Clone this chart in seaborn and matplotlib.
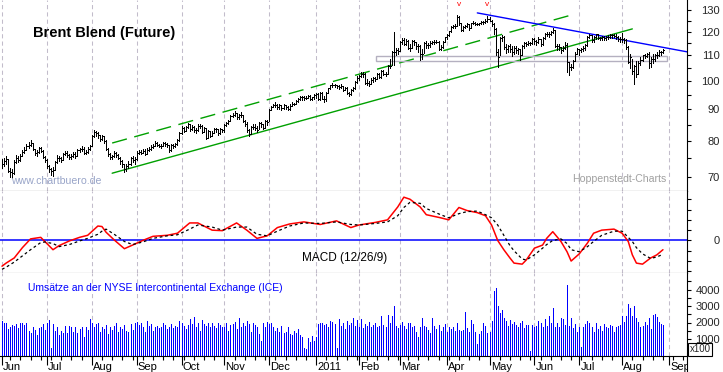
import matplotlib
matplotlib.use("Agg")
import matplotlib.pyplot as plt
import matplotlib.ticker as mticker
from matplotlib.patches import Rectangle
from matplotlib.transforms import blended_transform_factory, Bbox, TransformedBbox
import numpy as np
import pandas as pd
import seaborn as sns

sns.set_style("white")
plt.rcParams['font.family'] = ['Liberation Sans', 'DejaVu Sans']

# ---------------- data (daily, Jun 2010 .. Aug 2011) ----------------
close = [
    73.5, 74.2, 74.8, 71.6, 71.3, 71.0, 74.0, 75.2, 74.6, 75.8, 76.9, 77.5, 78.4, 78.9, 79.3, 77.6, 76.4, 76.8, 77.9, 77.2, 75.3, 74.6,
    72.9, 72.0, 71.7, 71.9, 74.0, 75.2, 75.0, 74.6, 76.1, 76.6, 75.9, 75.4, 75.8, 76.3, 75.8, 77.4, 77.7, 77.8, 76.6, 76.9, 77.7, 78.5,
    81.6, 82.6, 82.4, 81.7, 80.6, 81.4, 80.1, 77.8, 76.2, 75.4, 75.7, 76.5, 76.0, 75.1, 74.3, 73.4, 72.1, 72.9, 73.6, 75.0, 74.6, 74.8,
    76.6, 76.9, 76.6, 77.2, 76.3, 77.5, 77.7, 78.3, 78.5, 79.4, 78.9, 78.6, 78.5, 79.3, 79.0, 78.7, 77.3, 78.9, 78.4, 79.0, 80.3, 82.3,
    83.9, 83.1, 84.3, 85.1, 83.5, 84.4, 83.2, 83.3, 84.6, 84.7, 82.8, 83.9, 81.0, 83.0, 81.6, 82.5, 83.5, 83.6, 82.3, 83.5, 83.2,
    84.9, 85.4, 86.0, 87.9, 88.0, 88.6, 87.3, 88.0, 88.2, 86.3, 85.3, 83.4, 82.0, 84.3, 84.4, 84.0, 83.3, 85.4, 85.1, 84.0, 86.0, 85.9,
    89.9, 90.7, 91.4, 91.5, 90.7, 91.3, 90.5, 91.4, 90.8, 90.0, 91.2, 91.8, 91.9, 92.7, 93.5, 94.2, 94.0, 93.8, 93.9, 94.6, 93.6, 94.0, 94.8,
    95.2, 93.5, 95.5, 93.6, 93.3, 95.7, 97.2, 98.3, 98.6, 98.4, 98.0, 97.8, 98.2, 96.8, 97.4, 95.6, 95.2, 96.6, 97.4, 99.4, 101.0,
    101.7, 102.4, 102.6, 99.3, 99.3, 98.9, 100.2, 101.0, 100.8, 102.4, 101.6, 103.8, 102.6, 102.5, 105.7, 105.8, 111.3, 111.4, 112.1, 111.8,
    115.4, 116.4, 114.8, 116.0, 113.1, 113.0, 115.9, 115.4, 113.8, 113.7, 110.6, 110.6, 114.9, 114.0, 114.3, 115.0, 115.5, 115.5, 115.6, 112.4, 113.3, 115.4, 117.4,
    118.7, 120.1, 122.2, 122.3, 122.7, 126.6, 123.9, 120.9, 121.9, 122.5, 123.5, 121.6, 123.9, 124.0, 123.6, 123.4, 123.7, 124.2, 124.3, 124.8, 125.9,
    125.0, 123.5, 121.2, 111.1, 109.1, 117.3, 117.7, 113.4, 112.6, 113.8, 112.5, 111.4, 112.9, 112.1, 112.4, 110.1, 113.6, 114.9, 114.5, 115.0, 115.0, 116.7,
    115.7, 115.6, 116.8, 114.6, 117.1, 118.8, 119.0, 118.8, 119.6, 120.6, 113.9, 113.9, 113.2, 111.9, 113.0, 114.2, 107.3, 105.1, 105.3, 107.7, 110.6, 112.5,
    111.9, 112.3, 112.8, 114.0, 117.8, 118.3, 116.2, 117.4, 118.8, 117.0, 117.2, 117.4, 117.3, 117.6, 117.5, 118.7, 118.3, 118.2, 117.4, 116.7, 116.7,
    116.9, 116.5, 113.2, 107.3, 109.4, 103.7, 105.7, 102.6, 107.0, 108.0, 109.9, 109.7, 110.6, 106.9, 108.6, 108.4, 110.0, 110.2, 111.4, 111.4, 112.0,
]
high = [
    74.8, 75.0, 75.6, 74.9, 72.4, 72.0, 74.5, 76.0, 75.7, 76.2, 77.4, 78.2, 79.0, 79.7, 80.4, 79.4, 77.8, 77.5, 78.3, 78.2, 77.3, 75.7,
    74.8, 73.3, 72.4, 72.7, 74.4, 75.9, 75.6, 75.5, 76.4, 77.0, 77.0, 76.2, 76.2, 76.8, 76.8, 77.7, 78.0, 78.6, 78.1, 77.5, 78.1, 78.9,
    81.9, 83.3, 83.0, 82.7, 81.8, 81.7, 81.4, 80.3, 77.9, 76.5, 76.0, 77.0, 76.9, 76.2, 75.5, 74.6, 73.6, 73.4, 74.3, 75.4, 75.7, 75.3,
    77.0, 77.4, 77.3, 77.8, 77.6, 77.9, 78.2, 78.7, 79.1, 79.9, 79.6, 79.2, 79.0, 79.8, 79.6, 79.5, 78.8, 79.2, 79.1, 79.4, 80.6, 82.6,
    84.5, 84.2, 84.6, 85.6, 85.3, 84.9, 84.5, 84.0, 85.2, 85.3, 84.8, 84.2, 84.0, 83.4, 83.0, 82.9, 83.9, 84.0, 83.7, 83.8, 83.7,
    85.2, 85.8, 86.4, 88.2, 88.7, 89.4, 88.6, 88.4, 89.1, 88.0, 86.6, 85.7, 83.7, 84.7, 85.2, 85.1, 84.6, 85.7, 85.8, 85.2, 86.5, 86.5,
    90.2, 91.2, 91.8, 92.4, 91.6, 91.7, 91.2, 91.7, 91.5, 91.0, 91.6, 92.3, 92.2, 93.2, 93.8, 94.6, 94.5, 94.4, 94.6, 94.9, 94.7, 94.3, 95.1,
    95.6, 95.4, 95.8, 95.8, 94.4, 95.9, 97.5, 98.6, 99.2, 98.9, 98.5, 98.4, 98.7, 98.2, 97.9, 97.6, 96.1, 97.1, 97.9, 99.8, 101.7,
    102.0, 103.4, 103.4, 103.0, 100.6, 100.0, 100.9, 101.6, 101.6, 102.8, 103.0, 104.0, 104.1, 103.5, 105.9, 108.6, 111.7, 119.8, 112.9, 113.0,
    116.1, 117.0, 117.0, 116.7, 116.5, 114.4, 116.2, 116.5, 115.6, 114.5, 114.3, 112.3, 115.5, 115.7, 115.0, 115.7, 116.0, 116.2, 116.4, 115.9, 114.0, 115.8, 117.6,
    119.0, 120.4, 122.6, 123.0, 123.5, 127.5, 126.9, 123.9, 122.3, 123.0, 124.0, 123.6, 124.1, 124.7, 124.4, 123.9, 124.0, 124.6, 124.9, 125.5, 127.2,
    126.8, 125.4, 123.9, 121.8, 112.7, 117.6, 118.6, 118.2, 114.6, 114.2, 114.4, 113.6, 113.6, 113.7, 113.0, 112.4, 114.0, 115.3, 115.3, 115.8, 115.6, 117.3,
    117.0, 116.3, 117.5, 116.9, 117.4, 119.3, 119.8, 119.9, 120.4, 121.6, 120.9, 114.4, 114.4, 113.4, 113.6, 115.3, 114.9, 107.2, 106.4, 108.0, 111.2, 112.9,
    112.4, 113.0, 113.6, 114.8, 118.1, 118.9, 118.5, 117.9, 119.0, 119.0, 117.7, 118.0, 117.9, 118.2, 118.3, 119.0, 119.1, 118.8, 118.9, 118.0, 117.8,
    119.5, 117.0, 116.6, 113.6, 110.4, 108.5, 106.1, 107.8, 107.5, 109.2, 110.2, 110.5, 111.0, 111.1, 109.4, 110.5, 110.4, 111.3, 112.0, 111.8, 112.4,
]
low = [
    72.3, 72.8, 73.6, 71.2, 70.1, 69.7, 70.8, 73.8, 74.0, 74.4, 75.6, 76.6, 77.3, 78.0, 78.6, 77.3, 76.0, 75.8, 76.6, 76.9, 75.0, 73.9,
    72.3, 71.3, 70.6, 70.2, 71.8, 73.8, 74.4, 74.0, 74.6, 75.9, 75.3, 74.7, 74.7, 75.3, 75.2, 75.7, 76.8, 77.1, 76.2, 76.2, 76.6, 77.3,
    78.6, 81.2, 81.6, 80.9, 80.1, 80.3, 79.4, 77.4, 75.8, 74.9, 74.7, 75.4, 75.4, 74.9, 73.6, 72.6, 71.2, 71.6, 72.5, 73.2, 74.0, 73.6,
    74.5, 76.2, 76.1, 76.5, 75.9, 76.1, 77.0, 77.5, 77.9, 78.4, 78.6, 78.1, 77.9, 78.4, 78.6, 78.2, 76.9, 77.1, 78.0, 78.2, 78.8, 80.1,
    82.0, 82.7, 82.9, 84.0, 83.0, 83.2, 82.6, 82.4, 83.0, 83.8, 82.5, 82.6, 80.6, 80.8, 81.2, 81.5, 82.4, 82.8, 81.9, 82.2, 82.7,
    82.8, 84.5, 85.1, 86.1, 87.3, 87.9, 86.9, 86.8, 87.5, 85.9, 84.6, 82.8, 81.4, 82.2, 83.6, 83.4, 82.6, 83.5, 84.4, 83.6, 84.0, 85.0,
    86.0, 89.7, 90.6, 90.9, 90.1, 90.1, 89.9, 90.2, 90.1, 89.6, 89.8, 91.1, 91.3, 91.6, 92.6, 93.2, 93.1, 93.1, 93.3, 93.7, 93.2, 93.1, 93.6,
    93.7, 93.0, 93.2, 93.3, 92.6, 92.9, 95.5, 97.0, 97.9, 97.6, 97.5, 97.1, 97.4, 96.3, 96.5, 95.3, 94.6, 95.0, 96.2, 96.9, 99.1,
    100.4, 101.3, 101.5, 98.9, 98.6, 98.2, 98.8, 99.5, 100.0, 100.8, 101.2, 101.2, 102.3, 101.8, 102.6, 104.8, 106.0, 106.0, 110.0, 110.5,
    111.6, 114.7, 114.3, 114.0, 112.5, 111.7, 112.8, 114.3, 112.4, 111.3, 108.0, 108.4, 110.7, 113.0, 113.0, 113.5, 114.5, 114.6, 115.0, 112.0, 112.0, 112.9, 115.4,
    116.8, 118.2, 119.8, 121.5, 121.8, 122.5, 123.0, 120.2, 120.2, 121.4, 122.0, 120.8, 121.6, 123.4, 122.9, 123.1, 122.8, 123.5, 123.4, 124.0, 124.5,
    124.6, 122.3, 118.9, 109.9, 105.2, 110.2, 116.1, 112.6, 111.0, 111.3, 111.2, 109.8, 110.5, 110.9, 110.6, 108.2, 110.1, 113.0, 113.6, 114.0, 114.2, 114.6,
    114.5, 114.2, 115.0, 113.7, 114.1, 116.9, 117.9, 117.8, 118.4, 119.2, 113.5, 112.0, 112.2, 111.0, 111.5, 112.6, 103.5, 102.3, 104.0, 104.8, 107.6, 110.4,
    110.2, 111.2, 111.5, 112.1, 113.8, 117.0, 115.4, 115.5, 116.9, 116.6, 116.3, 116.3, 116.5, 116.5, 116.6, 117.1, 117.3, 117.6, 116.8, 116.0, 115.6,
    115.5, 115.0, 112.4, 106.8, 104.8, 102.5, 98.8, 101.5, 102.4, 106.1, 107.6, 108.8, 109.3, 105.0, 105.2, 106.8, 107.6, 108.7, 109.8, 110.0, 110.9,
]
volume = [
    2100, 1950, 1960, 1580, 1700, 1850, 1760, 1900, 1680, 1980, 1980, 1850, 2000, 1500, 1350, 1700, 1520, 1250, 1660, 1700, 1880, 1550,
    1960, 2150, 450, 1900, 1480, 1750, 1250, 1500, 1350, 1800, 1350, 1800, 1700, 1450, 1750, 1350, 1600, 1700, 1100, 1700, 1550, 2200,
    2000, 1700, 1900, 2000, 1400, 1750, 1600, 1850, 1300, 1700, 1550, 1800, 1950, 1450, 1700, 1600, 1850, 1500, 1400, 1900, 1550, 2000,
    2050, 1850, 1950, 1700, 1450, 2100, 1800, 1900, 1500, 1700, 1800, 1650, 1700, 2000, 1850, 1600, 1750, 1900, 1650, 1800, 1700, 2100,
    1950, 1800, 1600, 1850, 2200, 1900, 2350, 1750, 2000, 1500, 2150, 1900, 1800, 2000, 1750, 1950, 1800, 1650, 1950, 1850, 1700,
    1700, 1950, 1500, 1850, 1900, 2050, 1600, 2250, 1750, 2000, 1800, 2100, 1900, 1450, 1950, 1850, 1700, 1300, 900, 1950, 1700, 2050,
    1900, 2000, 1750, 1500, 1650, 1450, 1800, 1350, 1450, 1700, 1300, 1250, 1500, 1350, 1600, 1250, 1150, 450, 400, 1050, 800, 1200, 900,
    1100, 1900, 2000, 1950, 1850, 1900, 1750, 2100, 2050, 1900, 450, 2200, 1800, 2000, 1600, 2100, 1850, 2000, 2250, 1800, 2150,
    1750, 2200, 1650, 1900, 1800, 2050, 1750, 1850, 2000, 1700, 1800, 2400, 1850, 1700, 2450, 2000, 2400, 3000, 1800, 1650,
    1850, 2050, 1800, 1600, 2000, 1950, 1700, 1800, 1450, 1150, 1700, 2250, 1800, 1700, 1550, 1350, 2250, 1800, 1600, 1850, 1500, 1750, 1900,
    1450, 1700, 1600, 1750, 1500, 1950, 1550, 1500, 1550, 2650, 1650, 1400, 2150, 1900, 1450, 700, 1300, 1500, 1950, 1800, 1350,
    1400, 2100, 3900, 4100, 3000, 2600, 2750, 2300, 2100, 1800, 2150, 1900, 2050, 1850, 1700, 2000, 2100, 1650, 1850, 1850, 300, 1850,
    1750, 1800, 2100, 2000, 1750, 2200, 1800, 2400, 2000, 2900, 1750, 1950, 1700, 2300, 2200, 1850, 4300, 1800, 2250, 1650, 1900, 1400,
    1750, 500, 1750, 1900, 2100, 2000, 1750, 1450, 1950, 1600, 1800, 1500, 1900, 1750, 1650, 1850, 1800, 1400, 1750, 1800, 1850,
    2400, 2050, 2400, 3150, 2900, 2400, 3000, 2300, 2050, 1750, 1800, 2050, 1850, 2250, 1600, 2450, 2500, 2350, 2050, 1900, 1850,
]

# MACD (12/26/9): trading-day index, MACD line, signal line
macd_day = [0, 2, 6, 10, 14, 19, 21, 25, 28, 33, 38, 42, 47, 49, 51, 55, 60, 64, 69, 74, 81, 86, 92, 96, 103,
            108, 115, 120, 125, 130, 135, 141, 148, 156, 164, 171, 175, 183, 189, 194, 197, 200, 205, 208, 215,
            219, 224, 228, 233, 237, 240, 243, 246, 249, 251, 255, 257, 261, 265, 267, 270, 274, 277, 279, 283,
            287, 290, 294, 300, 304, 307, 309, 311, 314, 318, 321, 324]
macd_val = [-2.5, -2.2, -1.7, -0.7, 0.15, 0.3, -0.1, -0.9, -0.5, -0.05, 0.3, 0.5, 1.4, 1.35, 0.8, 0.05, -0.8, -0.45, 0.0, 0.4, 0.5, 0.7, 1.7, 1.7, 1.0,
            0.95, 1.7, 1.0, 0.2, 0.45, 1.25, 1.6, 1.8, 1.55, 1.9, 1.25, 1.5, 1.75, 2.0, 3.25, 4.2, 4.0, 3.25, 2.5, 2.2,
            2.0, 3.2, 2.9, 2.7, 2.4, 1.5, 0.0, -0.9, -1.7, -2.2, -2.3, -1.9, -0.75, -0.45, 0.2, 0.85, -0.1, -1.1, -2.0, -1.3,
            -0.25, 0.7, 1.0, 1.1, 0.7, -0.1, -1.4, -2.2, -2.3, -1.7, -1.4, -0.9]
signal_val = [-2.8, -2.6, -2.1, -1.5, -0.9, -0.2, -0.15, -0.3, -0.6, -0.4, -0.05, 0.2, 0.6, 0.9, 1.1, 0.6, -0.1, -0.4, -0.15, 0.2, 0.45, 0.55, 1.1, 1.5, 1.3,
              1.0, 1.3, 1.3, 0.6, 0.45, 0.9, 1.4, 1.7, 1.65, 1.8, 1.55, 1.5, 1.65, 1.8, 2.4, 3.2, 3.7, 3.6, 3.1, 2.5,
              2.2, 2.6, 2.8, 2.85, 2.5, 2.2, 1.5, 0.5, -0.5, -1.0, -1.8, -1.9, -1.4, -0.75, -0.4, 0.0, 0.15, -0.3, -0.9, -1.1,
              -0.6, -0.1, 0.5, 0.9, 0.9, 0.3, -0.1, -0.7, -1.3, -1.75, -1.6, -1.35]

# trend lines (trading-day index, price)
channel_low_day, channel_low_price = [54, 309], [71.0, 121.2]
channel_up_day, channel_up_price = [54, 281], [79.4, 128.1]
resist_day, resist_price = [233, 336], [128.6, 111.3]
zone_day, zone_price = [183.3, 326.0], [107.6, 109.6]
peak_marks = [224, 238]

month_labels = ["Jun", "Jul", "Aug", "Sep", "Oct", "Nov", "Dec", "2011",
                "Feb", "Mar", "Apr", "May", "Jun", "Jul", "Aug", "Sep"]
price_ticks = [70, 80, 90, 100, 110, 120, 130]
price_minor = [75, 85, 95, 105, 115, 125]
macd_ticks = [-3, -2, -1, 0, 1, 2, 3, 4]
vol_ticks = [1000, 2000, 3000, 4000]
vol_minor = [500, 1500, 2500, 3500, 4500]

# ---------------- layout ----------------
W, H = 723, 372
PX = 0.72  # one pixel in points
pos = np.arange(len(close))
axis_days = pd.bdate_range("2010-06-01", "2011-09-30")
month_starts = [i for i in range(len(axis_days))
                if i == 0 or axis_days[i].month != axis_days[i - 1].month][:len(month_labels)]
mondays = [i for i, d in enumerate(axis_days) if d.weekday() == 0]

fig = plt.figure(figsize=(W / 100, H / 100), dpi=100)
fig.patch.set_facecolor("white")


def rect(x0, y0, x1, y1):
    return [x0 / W, 1 - y1 / H, (x1 - x0) / W, (y1 - y0) / H]


ax1 = fig.add_axes(rect(0, 0, 687, 191))
ax2 = fig.add_axes(rect(0, 191, 687, 273), sharex=ax1)
ax3 = fig.add_axes(rect(0, 273, 687, 355.5), sharex=ax1)

grid_col = "#c2bccb"
for ax in (ax1, ax2, ax3):
    ax.set_facecolor("white")
    for s in ("left", "top"):
        ax.spines[s].set_visible(False)
    ax.spines["right"].set_color("black")
    ax.spines["right"].set_linewidth(0.8)
    ax.spines["bottom"].set_linewidth(0.8)
    ax.spines["bottom"].set_color("black")
    ax.yaxis.tick_right()
    ax.set_xticks(month_starts)
    ax.grid(True, axis="x", which="major", color=grid_col, lw=0.75, ls=(0, (4, 3)))
    ax.grid(False, axis="y")
    ax.set_axisbelow(True)
ax2.spines["bottom"].set_color("#5a5252")

ax1.set_xlim(-0.98, 335.8)
for ax in (ax1, ax2):
    ax.tick_params(axis="x", which="both", bottom=False, labelbottom=False)

# ---------------- price panel ----------------
ax1.vlines(pos, low, high, color="black", lw=PX, antialiased=False, zorder=3)
ax1.hlines(close, pos, pos + 0.55, color="black", lw=PX, antialiased=False, zorder=3)
ax1.set_yscale("log")
ax1.set_ylim(66.47, 134.9)
ax1.yaxis.set_major_locator(mticker.FixedLocator(price_ticks))
ax1.yaxis.set_major_formatter(mticker.FixedFormatter([str(v) for v in price_ticks]))
ax1.yaxis.set_minor_locator(mticker.FixedLocator(price_minor))
ax1.yaxis.set_minor_formatter(mticker.NullFormatter())

ax1.plot(channel_low_day, channel_low_price, color="#00a000", lw=1.0, zorder=2)
ax1.plot(channel_up_day, channel_up_price, color="#00a000", lw=1.0, ls=(0, (11, 5.5)), zorder=2)
ax1.plot(resist_day, resist_price, color="#0000ff", lw=1.0, zorder=2)
ax1.add_patch(Rectangle((zone_day[0], zone_price[0]), zone_day[1] - zone_day[0],
                        zone_price[1] - zone_price[0], fill=False, ec="#b4b0c0", lw=1.0, zorder=2))
btr = blended_transform_factory(ax1.transData, ax1.transAxes)
for d in peak_marks:
    ax1.text(d, 0.995, "v", transform=btr, color="red", fontsize=6, ha="center", va="top")

ax1.text(33 / 687, 1 - 33 / 191, "Brent Blend (Future)", transform=ax1.transAxes,
         fontsize=10.5, fontweight="bold", ha="left", va="center", color="black")
ax1.text(11 / 687, 1 - 181 / 191, "www.chartbuero.de", transform=ax1.transAxes,
         fontsize=7.6, ha="left", va="center", color="#98a4c8")
ax1.text(572 / 687, 1 - 179 / 191, "Hoppenstedt-Charts", transform=ax1.transAxes,
         fontsize=7.6, ha="left", va="center", color="#a0a0a0")

# ---------------- MACD panel ----------------
ax2.axhline(0, color="#0000ff", lw=1.1, zorder=2)
sns.lineplot(x=macd_day, y=macd_val, ax=ax2, color="#ff0000", lw=1.1,
             estimator=None, sort=False, zorder=3)
sns.lineplot(x=macd_day, y=signal_val, ax=ax2, color="black", lw=0.9,
             linestyle=(0, (2.2, 2.2)), estimator=None, sort=False, zorder=3)
ax2.set_ylim(-3.16, 4.8)
ax2.set_ylabel("")
ax2.yaxis.set_major_locator(mticker.FixedLocator(macd_ticks))
ax2.yaxis.set_major_formatter(mticker.FixedFormatter(["0" if v == 0 else "" for v in macd_ticks]))
ax2.text(302 / 687, 1 - (258 - 191) / 82, "MACD (12/26/9)", transform=ax2.transAxes,
         fontsize=8.5, ha="left", va="center", color="black")

# ---------------- volume panel ----------------
ax3.vlines(pos, 0, volume, color="#0000ff", lw=PX, antialiased=False, zorder=3)
ax3.set_ylim(0, 5000)
ax3.yaxis.set_major_locator(mticker.FixedLocator(vol_ticks))
ax3.yaxis.set_major_formatter(mticker.FixedFormatter([str(v) for v in vol_ticks]))
ax3.yaxis.set_minor_locator(mticker.FixedLocator(vol_minor))
ax3.yaxis.set_minor_formatter(mticker.NullFormatter())
ax3.text(28 / 687, 1 - (288 - 273) / 82.5, "Umsätze an der NYSE Intercontinental Exchange (ICE)",
         transform=ax3.transAxes, fontsize=7.5, ha="left", va="center", color="#0000ff")

ax3.xaxis.set_minor_locator(mticker.FixedLocator(mondays))
ax3.tick_params(axis="x", which="major", bottom=True, direction="out", length=6.5,
                width=0.8, color="black", labelbottom=False)
ax3.tick_params(axis="x", which="minor", bottom=True, direction="out", length=3,
                width=0.8, color="black")
ax3.set_xlim(-0.98, 335.8)

clipbox = TransformedBbox(Bbox([[0, 0], [687 / W, 1]]), fig.transFigure)
btr3 = blended_transform_factory(ax3.transData, ax3.transAxes)
for m, lab in zip(month_starts, month_labels):
    t = ax3.text(m + 0.6, -(370.5 - 355.5) / 82.5, lab, transform=btr3, fontsize=8,
                 ha="left", va="baseline", color="black", clip_on=True)
    t.set_clip_box(clipbox)
    t.set_clip_path(None)
ax3.plot([1, 1], [0, -0.25], transform=ax3.transAxes, color="black", lw=0.8, clip_on=False)

# right-hand tick labels, right aligned at x=720
for ax in (ax1, ax2, ax3):
    ax.tick_params(axis="y", which="both", right=True, left=False, direction="out",
                   length=3, width=0.8, color="black", labelsize=8, pad=20.8,
                   labelright=True, labelleft=False)
    for lbl in ax.get_yticklabels():
        lbl.set_horizontalalignment("right")

fig.text(700 / W, 1 - 349.5 / H, "x100", fontsize=7, ha="center", va="center",
         bbox=dict(boxstyle="square,pad=0.12", fc="white", ec="black", lw=0.8), zorder=10)

fig.savefig("out.png", dpi=100)
